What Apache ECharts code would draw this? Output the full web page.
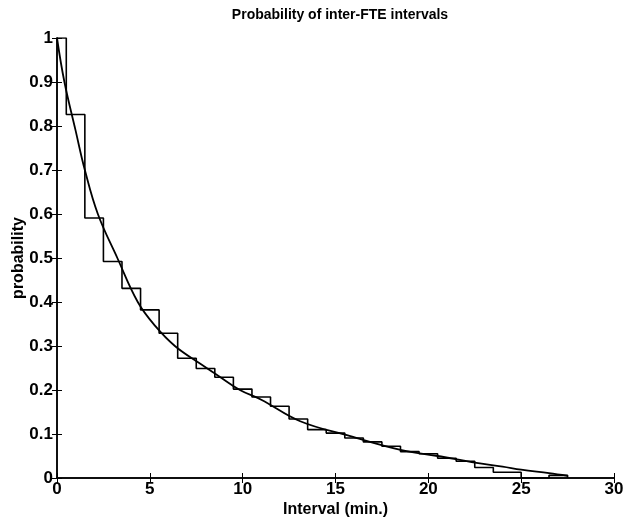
<!DOCTYPE html>
<html>
<head>
<meta charset="utf-8">
<script src="https://cdn.jsdelivr.net/npm/echarts@6/dist/echarts.min.js"></script>
<style>
  html, body { margin: 0; padding: 0; background: #fff; }
  #chart { width: 623px; height: 523px; }
</style>
</head>
<body>
<div id="chart"></div>
<script>
// empirical step function: left edge of each step and its level
var stepX = [0, 0.5, 1.5, 2.5, 3.5, 4.5, 5.5, 6.5, 7.5, 8.5, 9.5, 10.5, 11.5, 12.5, 13.5,
  14.5, 15.5, 16.5, 17.5, 18.5, 19.5, 20.5, 21.5, 22.5, 23.5, 25, 26.5, 27.5];
var stepY = [1.0, 0.826, 0.591, 0.492, 0.431, 0.382, 0.329, 0.272, 0.249, 0.229, 0.202, 0.184, 0.163, 0.134, 0.110,
  0.102, 0.091, 0.082, 0.072, 0.060, 0.055, 0.045, 0.038, 0.024, 0.013, 0.0, 0.006, 0.0];

// fitted smooth curve
var fitX = [0, 0.4, 1, 1.5, 2.2, 3.25, 4.35, 5.3, 6.35, 7.7, 8.7, 9.85, 11, 13.1, 15.8, 18.5, 20.5, 22.5, 24, 25, 26.5, 27.5];
var fitY = [1.0, 0.9, 0.79, 0.70, 0.60, 0.50, 0.40, 0.345, 0.30, 0.26, 0.232, 0.20, 0.178, 0.129, 0.095, 0.064, 0.05, 0.035, 0.026, 0.019, 0.011, 0.005];

var font = "Liberation Sans";

function pairs(xs, ys) {
  var out = [];
  for (var i = 0; i < xs.length; i++) out.push([xs[i], ys[i]]);
  return out;
}

var myChart = echarts.init(document.getElementById("chart"));

var tickStyle = { show: true, inside: true, length: 5, lineStyle: { color: "#000", width: 1 } };
var lineStyle = { show: true, lineStyle: { color: "#000", width: 1.5 } };
var labelStyle = { color: "#000", fontFamily: font, fontWeight: "bold", fontSize: 17 };
var nameStyle = { color: "#000", fontFamily: font, fontWeight: "bold", fontSize: 16 };

myChart.setOption({
  animation: false,
  backgroundColor: "#fff",
  title: {
    text: "Probability of inter-FTE intervals",
    left: 335,
    textAlign: "center",
    top: 3,
    textStyle: { color: "#000", fontFamily: font, fontWeight: "bold", fontSize: 14 }
  },
  grid: { left: 57, right: 9, top: 38, bottom: 45, containLabel: false, outerBoundsMode: "none" },
  xAxis: [
    {
      type: "value",
      min: 0,
      max: 30,
      interval: 5,
      name: "Interval (min.)",
      nameLocation: "middle",
      nameGap: 24,
      nameMoveOverlap: false,
      nameTextStyle: nameStyle,
      axisLine: lineStyle,
      axisTick: tickStyle,
      axisLabel: Object.assign({ margin: 3 }, labelStyle),
      splitLine: { show: false }
    },
    {
      type: "value",
      position: "top",
      min: 0,
      max: 30,
      interval: 5,
      axisLine: lineStyle,
      axisTick: tickStyle,
      axisLabel: { show: false },
      splitLine: { show: false }
    }
  ],
  yAxis: [
    {
      type: "value",
      min: 0,
      max: 1,
      interval: 0.1,
      name: "probability",
      nameLocation: "middle",
      nameGap: 30,
      nameMoveOverlap: false,
      nameTextStyle: nameStyle,
      axisLine: lineStyle,
      axisTick: tickStyle,
      axisLabel: Object.assign({ margin: 4, formatter: function (v) { return v === 0 || v === 1 ? String(v) : v.toFixed(1); } }, labelStyle),
      splitLine: { show: false }
    },
    {
      type: "value",
      position: "right",
      min: 0,
      max: 1,
      interval: 0.1,
      axisLine: lineStyle,
      axisTick: tickStyle,
      axisLabel: { show: false },
      splitLine: { show: false }
    }
  ],
  series: [
    {
      name: "empirical",
      type: "line",
      step: "end",
      data: pairs(stepX, stepY),
      symbol: "none",
      lineStyle: { color: "#000", width: 1.6 }
    },
    {
      name: "fit",
      type: "line",
      smooth: 0.4,
      data: pairs(fitX, fitY),
      symbol: "none",
      lineStyle: { color: "#000", width: 1.8 }
    }
  ]
});
</script>
</body>
</html>
